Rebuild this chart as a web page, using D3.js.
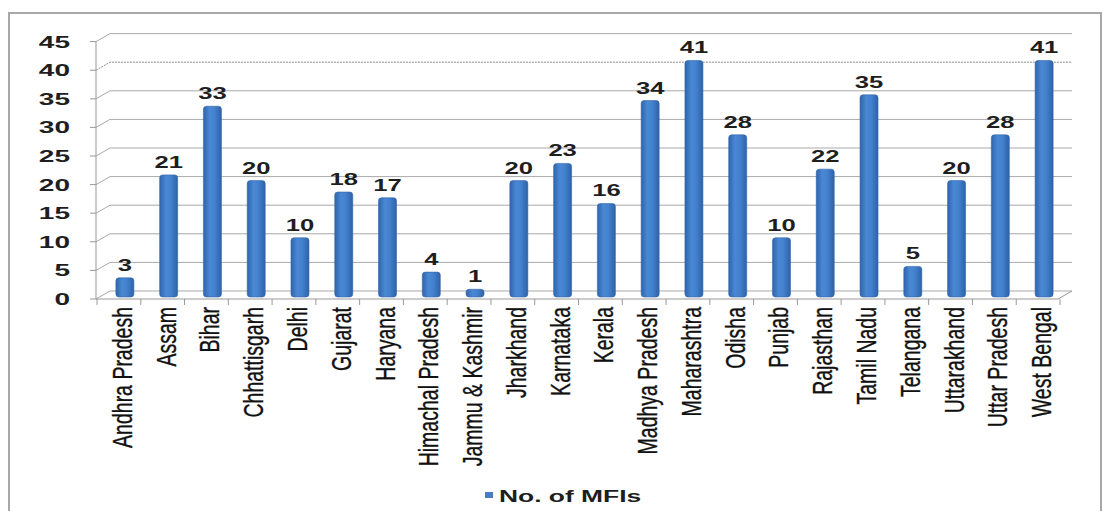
<!DOCTYPE html>
<html>
<head>
<meta charset="utf-8">
<script src="https://cdnjs.cloudflare.com/ajax/libs/d3/7.8.5/d3.min.js"></script>
<style>
  body { margin: 0; background: #fff; }
  svg { display: block; }
</style>
</head>
<body>
<div id="chart"></div>
<script>
var states = ['Andhra Pradesh', 'Assam', 'Bihar', 'Chhattisgarh', 'Delhi', 'Gujarat', 'Haryana',
  'Himachal Pradesh', 'Jammu & Kashmir', 'Jharkhand', 'Karnataka', 'Kerala', 'Madhya Pradesh',
  'Maharashtra', 'Odisha', 'Punjab', 'Rajasthan', 'Tamil Nadu', 'Telangana', 'Uttarakhand',
  'Uttar Pradesh', 'West Bengal'];
var mfiCounts = [3, 21, 33, 20, 10, 18, 17, 4, 1, 20, 23, 16, 34, 41, 28, 10, 22, 35, 5, 20, 28, 41];
var yTicks = [0, 5, 10, 15, 20, 25, 30, 35, 40, 45];
var seriesName = 'No. of MFIs';

(function() {
  var width = 1103, height = 511;
  var axisX = 96, depthX = 14, depthY = 8, wallRight = 1072;
  var svg, x, y, defs, grad, barW = 18;

  svg = d3.select('#chart').append('svg')
    .attr('width', width)
    .attr('height', height);

  // outer frame
  svg.append('rect')
    .attr('x', 9).attr('y', 13)
    .attr('width', 1092).attr('height', 520)
    .attr('fill', '#fff')
    .attr('stroke', '#a8a8a8')
    .attr('stroke-width', 2);

  x = d3.scaleBand().domain(states).range([103, 1066]);
  y = d3.scaleLinear().domain([0, 45]).range([295, 37.6]);

  defs = svg.append('defs');
  grad = defs.append('linearGradient').attr('id', 'barGrad')
    .attr('x1', '0%').attr('x2', '100%').attr('y1', '0%').attr('y2', '0%');
  grad.append('stop').attr('offset', '0%').attr('stop-color', '#2f64ad');
  grad.append('stop').attr('offset', '35%').attr('stop-color', '#4a88d4');
  grad.append('stop').attr('offset', '60%').attr('stop-color', '#4482cf');
  grad.append('stop').attr('offset', '100%').attr('stop-color', '#2e62a8');

  // gridlines on the back wall, with the 3D slant back from the axis
  svg.append('g').selectAll('path').data(yTicks).enter().append('path')
    .attr('d', function(d) {
      var yf = y(d) + 4, yb = y(d) - 4;
      return 'M' + axisX + ',' + yf + 'L' + (axisX + depthX) + ',' + yb + 'L' + wallRight + ',' + yb;
    })
    .attr('fill', 'none')
    .attr('stroke', function(d) { return d === 40 ? '#8c8c8c' : '#a9a9a9'; })
    .attr('stroke-dasharray', function(d) { return d === 40 ? '2,1' : null; })
    .attr('stroke-width', 1);

  // floor front edge + right slant
  svg.append('path')
    .attr('d', 'M' + axisX + ',' + (y(0) + 4) + 'L' + (wallRight - depthX) + ',' + (y(0) + 4) +
      'L' + wallRight + ',' + (y(0) - 4))
    .attr('fill', 'none').attr('stroke', '#999').attr('stroke-width', 1);

  // y axis line + ticks
  svg.append('line')
    .attr('x1', axisX).attr('x2', axisX)
    .attr('y1', y(45) + 4).attr('y2', y(0) + 4)
    .attr('stroke', '#999');
  svg.append('g').selectAll('line').data(yTicks).enter().append('line')
    .attr('x1', axisX - 6).attr('x2', axisX)
    .attr('y1', function(d) { return y(d) + 4; })
    .attr('y2', function(d) { return y(d) + 4; })
    .attr('stroke', '#999');

  // y tick labels (wide, bold)
  svg.append('g').selectAll('text').data(yTicks).enter().append('text')
    .attr('transform', function(d) { return 'translate(70,' + (y(d) + 10) + ') scale(1.65,1)'; })
    .attr('text-anchor', 'end')
    .attr('font-family', 'Liberation Sans, Arial, sans-serif')
    .attr('font-weight', 'bold')
    .attr('font-size', '17px')
    .attr('fill', '#1e1e1e')
    .text(function(d) { return d; });

  // x ticks on floor edge
  svg.append('g').selectAll('line').data(states.concat(['end'])).enter().append('line')
    .attr('x1', function(d, i) { return 103 + i * x.step() - 6; })
    .attr('x2', function(d, i) { return 103 + i * x.step() - 6; })
    .attr('y1', y(0) + 4).attr('y2', y(0) + 10)
    .attr('stroke', '#999');

  // bars
  svg.append('g').selectAll('rect').data(mfiCounts).enter().append('rect')
    .attr('x', function(d, i) { return x(states[i]) + x.bandwidth() / 2 - barW / 2; })
    .attr('y', function(d) { return y(d); })
    .attr('width', barW)
    .attr('height', function(d) { return y(0) - y(d) + 2; })
    .attr('rx', 3)
    .attr('fill', 'url(#barGrad)')
    .attr('stroke', '#3366aa')
    .attr('stroke-width', 0.6);

  // data labels
  svg.append('g').selectAll('text').data(mfiCounts).enter().append('text')
    .attr('transform', function(d, i) {
      return 'translate(' + (x(states[i]) + x.bandwidth() / 2) + ',' + (y(d) - 7) + ') scale(1.6,1)';
    })
    .attr('text-anchor', 'middle')
    .attr('font-family', 'Liberation Sans, Arial, sans-serif')
    .attr('font-weight', 'bold')
    .attr('font-size', '16px')
    .attr('fill', '#1e1e1e')
    .text(function(d) { return d; });

  // category labels, rotated
  svg.append('g').selectAll('text').data(states).enter().append('text')
    .attr('transform', function(d) {
      return 'translate(' + (x(d) + x.bandwidth() / 2 + 7) + ',307) scale(1.4,1) rotate(-90)';
    })
    .attr('text-anchor', 'end')
    .attr('font-family', 'Liberation Sans, Arial, sans-serif')
    .attr('font-size', '19.5px')
    .attr('fill', '#111')
    .attr('stroke', '#111')
    .attr('stroke-width', 0.25)
    .text(function(d) { return d; });

  // legend
  svg.append('rect')
    .attr('x', 485).attr('y', 492)
    .attr('width', 8).attr('height', 6)
    .attr('fill', '#4a7cc0');
  svg.append('text')
    .attr('transform', 'translate(499,502) scale(1.65,1)')
    .attr('font-family', 'Liberation Sans, Arial, sans-serif')
    .attr('font-weight', 'bold')
    .attr('font-size', '16px')
    .attr('fill', '#1e1e1e')
    .text(seriesName);
}).call(this);
</script>
</body>
</html>
